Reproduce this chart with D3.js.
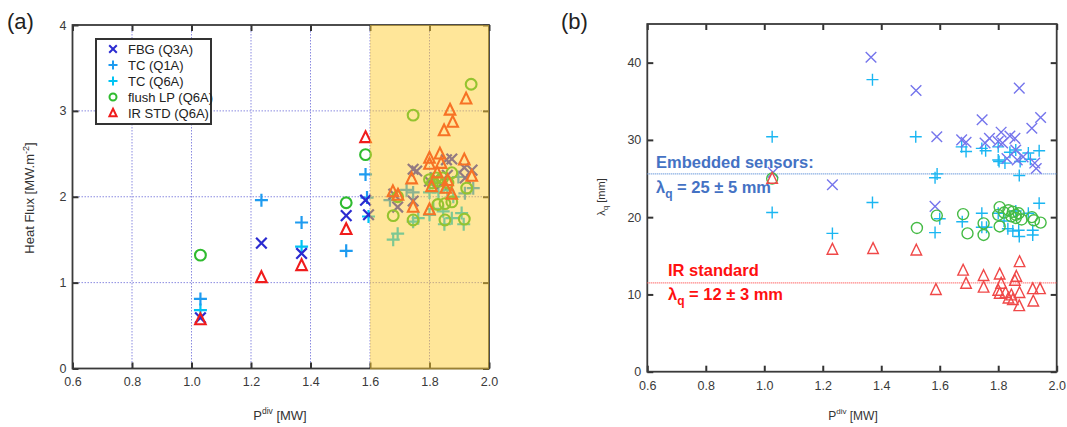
<!DOCTYPE html>
<html><head><meta charset="utf-8">
<script src="https://cdn.jsdelivr.net/npm/d3@7"></script>
<style>
body{margin:0;background:#fff;}
svg{display:block;}
text{font-family:"Liberation Sans",Arial,sans-serif;}
</style></head>
<body>
<svg id="c" width="1067" height="427"></svg>
<script>
// ---------- DATA ----------
const xTicks = [0.6,0.8,1.0,1.2,1.4,1.6,1.8,2.0];
const yTicksA = [0,1,2,3,4];
const yTicksB = [0,10,20,30,40];
const legendLabels = ["FBG (Q3A)","TC (Q1A)","TC (Q6A)","flush LP (Q6A)","IR STD (Q6A)"];
const shadeRange = [1.6, 2.0];

// panel (a): heat flux [MW/m2] vs Pdiv [MW]
const fbgA = [[1.03,0.59],[1.235,1.46],[1.37,1.34],[1.52,1.78],[1.585,1.96],[1.595,1.79],[1.68,2.03],[1.693,1.88],[1.745,2.32],[1.757,2.30],[1.745,1.95],[1.80,2.18],[1.82,2.22],[1.84,2.15],[1.857,2.43],[1.875,2.44],[1.86,2.25],[1.917,2.34],[1.943,2.31],[1.92,2.22]];
const tc1A = [[1.03,0.81],[1.235,1.96],[1.37,1.70],[1.52,1.37],[1.585,2.26],[1.59,1.99],[1.667,1.96],[1.723,2.08],[1.745,2.05],[1.813,2.17],[1.897,2.23],[1.947,2.10],[1.919,2.04]];
const tc6A = [[1.03,0.68],[1.37,1.42],[1.595,1.77],[1.678,1.50],[1.693,1.57],[1.745,1.71],[1.762,1.75],[1.80,1.79],[1.813,1.86],[1.846,1.83],[1.85,1.68],[1.875,1.75],[1.88,2.00],[1.908,1.81],[1.915,1.68],[1.83,2.05],[1.86,2.08],[1.80,2.05]];
const lpA = [[1.03,1.32],[1.52,1.93],[1.585,2.49],[1.678,1.78],[1.693,2.00],[1.745,2.95],[1.745,1.73],[1.80,2.20],[1.81,2.16],[1.822,2.22],[1.832,2.18],[1.845,2.22],[1.828,1.91],[1.852,1.92],[1.875,1.94],[1.852,1.73],[1.875,2.28],[1.917,1.74],[1.925,2.10],[1.94,3.31],[1.862,2.16]];
const irA = [[1.03,0.57],[1.235,1.06],[1.37,1.20],[1.52,1.62],[1.585,2.69],[1.677,2.06],[1.694,2.02],[1.74,2.21],[1.745,1.88],[1.80,2.45],[1.80,2.38],[1.807,2.12],[1.80,1.85],[1.826,2.28],[1.835,2.50],[1.839,2.39],[1.849,2.77],[1.855,2.10],[1.861,2.19],[1.869,3.01],[1.875,2.03],[1.878,2.87],[1.917,2.43],[1.923,3.14],[1.942,2.24]];

// panel (b): lambda_q [mm] vs Pdiv [MW]
const fbgB = [[1.03,25.8],[1.233,24.2],[1.365,40.7],[1.519,36.4],[1.59,30.4],[1.584,21.4],[1.675,30.0],[1.69,29.7],[1.745,32.6],[1.755,29.6],[1.77,30.2],[1.80,29.8],[1.81,31.0],[1.815,29.6],[1.84,30.5],[1.857,30.2],[1.86,28.7],[1.872,36.7],[1.865,27.4],[1.885,27.8],[1.83,27.6],[1.915,31.5],[1.945,32.9],[1.925,27.0],[1.93,26.3]];
const tcB = [[1.027,30.4],[1.027,20.6],[1.37,37.8],[1.37,21.9],[1.233,17.9],[1.518,30.4],[1.584,25.1],[1.591,25.6],[1.584,18.0],[1.60,19.8],[1.675,29.1],[1.69,28.5],[1.677,19.4],[1.744,28.9],[1.757,28.6],[1.744,20.5],[1.744,18.7],[1.76,18.7],[1.80,27.4],[1.803,27.2],[1.80,29.1],[1.823,27.0],[1.84,28.4],[1.86,28.7],[1.875,27.2],[1.872,25.4],[1.903,28.3],[1.91,27.5],[1.94,28.6],[1.94,21.8],[1.80,20.5],[1.82,19.5],[1.833,18.5],[1.85,18.2],[1.87,18.3],[1.872,17.5],[1.903,20.5],[1.918,18.3],[1.918,17.7],[1.86,20.8]];
const lpB = [[1.027,25.0],[1.522,18.6],[1.59,20.2],[1.68,20.4],[1.695,17.9],[1.75,19.2],[1.75,17.7],[1.805,21.3],[1.80,20.3],[1.805,18.8],[1.82,20.6],[1.835,20.9],[1.845,20.1],[1.85,20.7],[1.86,20.3],[1.87,20.5],[1.88,19.7],[1.86,19.9],[1.915,20.0],[1.922,19.6],[1.945,19.3]];
const irB = [[1.027,25.0],[1.233,15.8],[1.372,15.9],[1.52,15.7],[1.587,10.6],[1.68,13.1],[1.69,11.4],[1.75,12.4],[1.75,10.9],[1.805,12.6],[1.81,11.4],[1.805,10.1],[1.80,10.5],[1.825,10.2],[1.835,9.5],[1.845,9.9],[1.85,9.3],[1.857,11.8],[1.862,12.3],[1.873,14.2],[1.873,10.2],[1.872,8.5],[1.918,10.7],[1.943,10.7],[1.92,9.1]];
const refLines = [25.6, 11.5];

// ---------- DRAW ----------
const svg = d3.select("#c");
const colA = {fbg:"#2b2bd0", tc1:"#1e9bf0", tc6:"#00c4f4", lp:"#2fbb2f", ir:"#f01c1c"};
const colB = {fbg:"#7575ec", tc:"#1ab6f2", lp:"#45bb45", ir:"#f04848"};

function markerPath(type, s){
  if(type==="x") return `M${-s},${-s}L${s},${s}M${-s},${s}L${s},${-s}`;
  if(type==="+") return `M${-s},0H${s}M0,${-s}V${s}`;
  if(type==="tri") return `M0,${-s}L${s*0.85},${s*0.75}L${-s*0.85},${s*0.75}Z`;
  return null;
}
function drawSeries(g, data, x, y, type, color, s, w){
  const sel = g.append("g").selectAll(type==="o"?"circle":"path").data(data).join(type==="o"?"circle":"path")
    .attr("fill","none").attr("stroke",color).attr("stroke-width",w);
  if(type==="o") sel.attr("cx",d=>x(d[0])).attr("cy",d=>y(d[1])).attr("r",s);
  else sel.attr("d",markerPath(type,s)).attr("transform",d=>`translate(${x(d[0])},${y(d[1])})`);
}

function frame(g, x, y, yTicks, fmtY){
  const [x0,x1] = x.range(), [y0,y1] = y.range();
  const ax = d3.axisBottom(x).tickValues(xTicks).tickFormat(d3.format(".1f")).tickSize(-6).tickPadding(9);
  const ay = d3.axisLeft(y).tickValues(yTicks).tickFormat(fmtY).tickSize(-6).tickPadding(6);
  const at = d3.axisTop(x).tickValues(xTicks).tickFormat("").tickSize(-6);
  const ar = d3.axisRight(y).tickValues(yTicks).tickFormat("").tickSize(-6);
  [[ax,`translate(0,${y0})`],[ay,`translate(${x0},0)`],[at,`translate(0,${y1})`],[ar,`translate(${x1},0)`]].forEach(([a,t])=>{
    const gg = g.append("g").attr("transform",t).call(a);
    gg.select(".domain").remove();
    gg.selectAll(".tick line").attr("stroke","#333").attr("stroke-width",2);
    gg.selectAll(".tick text").attr("fill","#3a3a3a").attr("font-size",12.5).attr("font-family","Liberation Sans, Arial, sans-serif");
  });
  g.append("rect").attr("x",x0).attr("y",y1).attr("width",x1-x0).attr("height",y0-y1)
    .attr("fill","none").attr("stroke","#3a3a3a").attr("stroke-width",1.8);
}

// ===== Panel (a) =====
const xA = d3.scaleLinear().domain([0.6,2.0]).range([72.5,489]);
const yA = d3.scaleLinear().domain([0,4]).range([368.5,25]);
const gA = svg.append("g");
gA.append("g").selectAll("line.gx").data(xTicks.slice(1,-1)).join("line")
  .attr("x1",d=>xA(d)).attr("x2",d=>xA(d)).attr("y1",yA(0)).attr("y2",yA(4))
  .attr("stroke","#8a8ae0").attr("stroke-width",1).attr("stroke-dasharray","1.5,1.5");
gA.append("g").selectAll("line.gy").data(yTicksA.slice(1,-1)).join("line")
  .attr("y1",d=>yA(d)).attr("y2",d=>yA(d)).attr("x1",xA(0.6)).attr("x2",xA(2.0))
  .attr("stroke","#8a8ae0").attr("stroke-width",1).attr("stroke-dasharray","1.5,1.5");
frame(gA, xA, yA, yTicksA, d3.format("d"));
drawSeries(gA, tc6A, xA, yA, "+", colA.tc6, 6.5, 2.2);
drawSeries(gA, tc1A, xA, yA, "+", colA.tc1, 6.5, 2.2);
drawSeries(gA, fbgA, xA, yA, "x", colA.fbg, 5.3, 2.2);
drawSeries(gA, lpA, xA, yA, "o", colA.lp, 5.4, 2.1);
drawSeries(gA, irA, xA, yA, "tri", colA.ir, 6.2, 2.1);
gA.append("rect").attr("x",xA(shadeRange[0])).attr("y",yA(4)).attr("width",xA(shadeRange[1])-xA(shadeRange[0]))
  .attr("height",yA(0)-yA(4)+1).attr("fill","rgb(255,204,47)").attr("fill-opacity",0.49);
// legend
const lg = gA.append("g").attr("transform","translate(96,39)");
lg.append("rect").attr("width",115).attr("height",85).attr("fill","#fff").attr("stroke","#333").attr("stroke-width",2);
const legTypes = ["x","+","+","o","tri"];
const legCols = [colA.fbg,colA.tc1,colA.tc6,colA.lp,colA.ir];
legendLabels.forEach((lab,i)=>{
  const cy = 10 + i*16;
  if(legTypes[i]==="o") lg.append("circle").attr("cx",17).attr("cy",cy).attr("r",3.5).attr("fill","none").attr("stroke",legCols[i]).attr("stroke-width",2);
  else lg.append("path").attr("d",markerPath(legTypes[i], legTypes[i]==="x"?3.8:(legTypes[i]==="tri"?4.2:4.5))).attr("transform",`translate(17,${cy})`)
    .attr("fill","none").attr("stroke",legCols[i]).attr("stroke-width",2);
  lg.append("text").attr("x",32).attr("y",cy+4.5).attr("font-size",13).attr("fill","#222").text(lab);
});
svg.append("text").attr("x",7).attr("y",29).attr("font-size",22).attr("fill","#222").text("(a)");
svg.append("text").attr("transform","translate(34,198) rotate(-90)").attr("text-anchor","middle").attr("font-size",13).attr("fill","#333")
  .call(t=>{t.append("tspan").text("Heat Flux [MW.m");t.append("tspan").attr("dy",-5).attr("font-size",9).text("-2");t.append("tspan").attr("dy",5).text("]");});
svg.append("text").attr("x",280).attr("y",420).attr("text-anchor","middle").attr("font-size",13).attr("fill","#333")
  .call(t=>{t.append("tspan").text("P");t.append("tspan").attr("dy",-6).attr("font-size",8.5).text("div");t.append("tspan").attr("dy",6).text(" [MW]");});

// ===== Panel (b) =====
const xB = d3.scaleLinear().domain([0.6,2.0]).range([647.3,1056.7]);
const yB = d3.scaleLinear().domain([0,45]).range([371.7,24]);
const gB = svg.append("g");
frame(gB, xB, yB, yTicksB, d3.format("d"));
const refCols = ["#5b8fd8","#ff5555"];
gB.selectAll("line.ref").data(refLines).join("line")
  .attr("x1",xB(0.6)).attr("x2",xB(2.0)).attr("y1",d=>yB(d)).attr("y2",d=>yB(d))
  .attr("stroke",(d,i)=>refCols[i]).attr("stroke-width",1.2).attr("stroke-dasharray","1,1");
drawSeries(gB, tcB, xB, yB, "+", colB.tc, 6, 1.4);
drawSeries(gB, fbgB, xB, yB, "x", colB.fbg, 5.3, 1.4);
drawSeries(gB, lpB, xB, yB, "o", colB.lp, 5.5, 1.4);
drawSeries(gB, irB, xB, yB, "tri", colB.ir, 6.2, 1.4);
const ann = gB.append("g").attr("font-family","Lato, 'Open Sans', sans-serif").attr("font-weight","bold").attr("font-size",16.5);
ann.append("text").attr("x",656).attr("y",168).attr("fill","#4472c4").text("Embedded sensors:");
ann.append("text").attr("x",656).attr("y",193).attr("fill","#4472c4")
  .call(t=>{t.append("tspan").text("λ");t.append("tspan").attr("dy",5).attr("font-size",12).text("q");t.append("tspan").attr("dy",-5).text(" = 25 ± 5 mm");});
ann.append("text").attr("x",668).attr("y",276).attr("fill","#ff1010").text("IR standard");
ann.append("text").attr("x",668).attr("y",300).attr("fill","#ff1010")
  .call(t=>{t.append("tspan").text("λ");t.append("tspan").attr("dy",5).attr("font-size",12).text("q");t.append("tspan").attr("dy",-5).text(" = 12 ± 3 mm");});
svg.append("text").attr("x",561).attr("y",29).attr("font-size",22).attr("fill","#222").text("(b)");
svg.append("text").attr("transform","translate(605,197) rotate(-90)").attr("text-anchor","middle").attr("font-size",11).attr("fill","#333")
  .call(t=>{t.append("tspan").text("λ");t.append("tspan").attr("dy",3).attr("font-size",8).text("q");t.append("tspan").attr("dy",-3).text(" [mm]");});
svg.append("text").attr("x",853).attr("y",420).attr("text-anchor","middle").attr("font-size",12).attr("fill","#333")
  .call(t=>{t.append("tspan").text("P");t.append("tspan").attr("dy",-6).attr("font-size",8).text("div");t.append("tspan").attr("dy",6).text(" [MW]");});
</script>
</body></html>
